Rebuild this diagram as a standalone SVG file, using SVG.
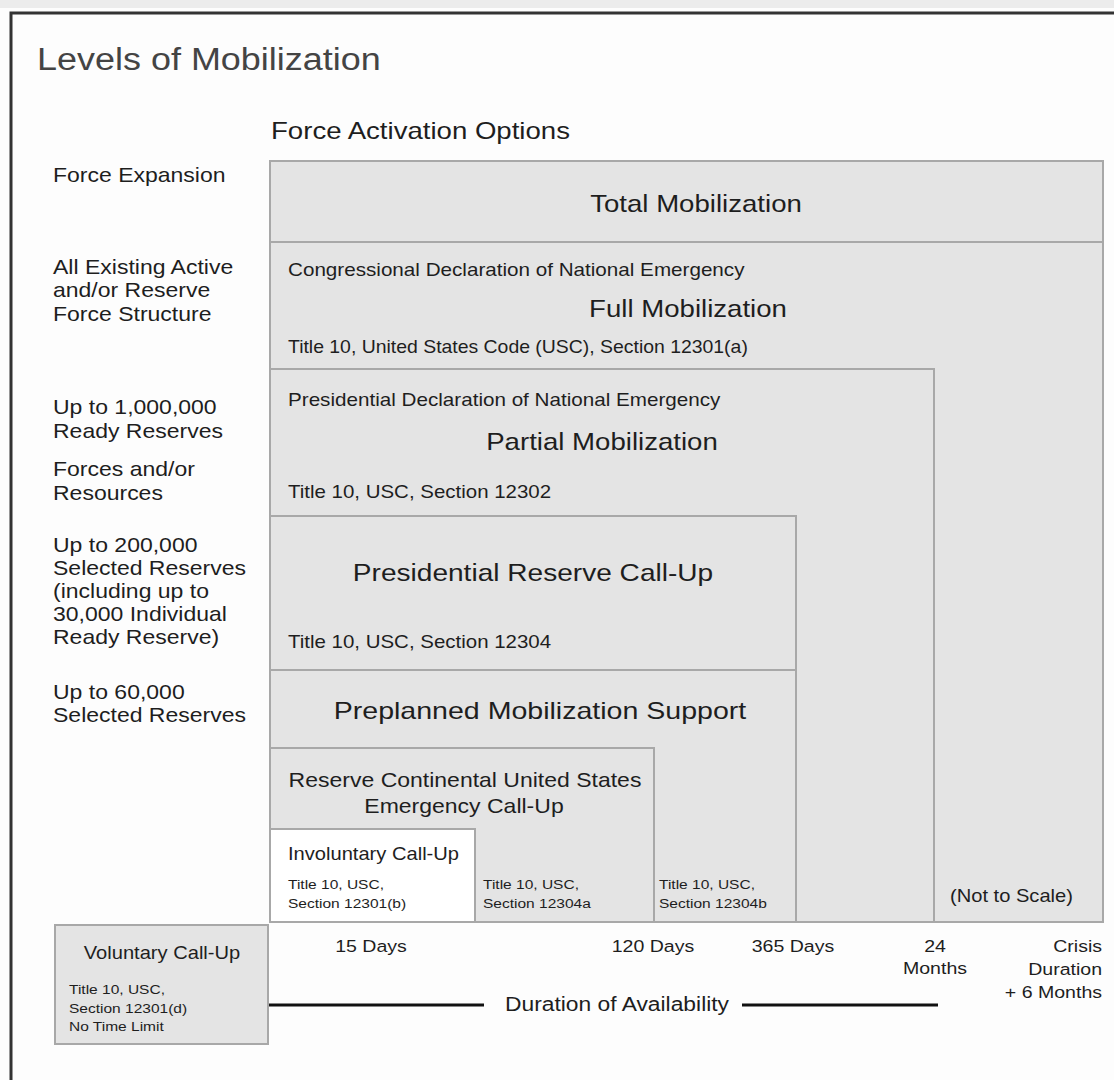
<svg xmlns="http://www.w3.org/2000/svg" width="1114" height="1080" viewBox="0 0 1114 1080">
<style>
text{font-family:"Liberation Sans",Arial,sans-serif;fill:#1e1e1e}
.box{fill:#e4e4e4;stroke:#a8a8a8;stroke-width:2}
.wbox{fill:#ffffff;stroke:#a8a8a8;stroke-width:2}
.lbl{font-size:20px}
.ilbl{font-size:20px}
.big{font-size:24px}
.med{font-size:17.5px}
.ax{font-size:17px}
.sm{font-size:13.5px}
.c{text-anchor:middle}
.r{text-anchor:end}
.axis{stroke:#111;stroke-width:3}
</style>
<rect x="0" y="0" width="1114" height="1080" fill="#fdfdfd"/>
<rect x="0" y="0" width="1114" height="8" fill="#ececec"/>
<path d="M1114 13 H11 V1080" fill="none" stroke="#333" stroke-width="3"/>
<text transform="translate(37 70) scale(1.16 1)" font-size="31" style="fill:#444">Levels of Mobilization</text>
<text transform="translate(271 139) scale(1.2 1)" font-size="23">Force Activation Options</text>

<g id="left-labels" class="lbl">
<text transform="translate(53 182) scale(1.15 1)">Force Expansion</text>
<text transform="translate(53 274) scale(1.15 1)">All Existing Active</text>
<text transform="translate(53 297) scale(1.15 1)">and/or Reserve</text>
<text transform="translate(53 321) scale(1.15 1)">Force Structure</text>
<text transform="translate(53 414) scale(1.15 1)">Up to 1,000,000</text>
<text transform="translate(53 438) scale(1.15 1)">Ready Reserves</text>
<text transform="translate(53 476) scale(1.15 1)">Forces and/or</text>
<text transform="translate(53 500) scale(1.15 1)">Resources</text>
<text transform="translate(53 552) scale(1.15 1)">Up to 200,000</text>
<text transform="translate(53 575) scale(1.15 1)">Selected Reserves</text>
<text transform="translate(53 598) scale(1.15 1)">(including up to</text>
<text transform="translate(53 621) scale(1.15 1)">30,000 Individual</text>
<text transform="translate(53 644) scale(1.15 1)">Ready Reserve)</text>
<text transform="translate(53 699) scale(1.15 1)">Up to 60,000</text>
<text transform="translate(53 722) scale(1.15 1)">Selected Reserves</text>
</g>

<g id="total-mobilization">
<rect class="box" x="270" y="161" width="833" height="81"/>
<text class="big c" transform="translate(696 212) scale(1.15 1)">Total Mobilization</text>
</g>
<g id="full-mobilization">
<rect class="box" x="270" y="242" width="833" height="680"/>
<text class="med" transform="translate(288 276) scale(1.18 1)">Congressional Declaration of National Emergency</text>
<text class="big c" transform="translate(688 317) scale(1.15 1)">Full Mobilization</text>
<text class="med" transform="translate(288 353) scale(1.11 1)">Title 10, United States Code (USC), Section 12301(a)</text>
<text class="med" transform="translate(950 902) scale(1.15 1)">(Not to Scale)</text>
</g>
<g id="partial-mobilization">
<rect class="box" x="270" y="369" width="664" height="553"/>
<text class="med" transform="translate(288 406) scale(1.18 1)">Presidential Declaration of National Emergency</text>
<text class="big c" transform="translate(602 450) scale(1.15 1)">Partial Mobilization</text>
<text class="med" transform="translate(288 498) scale(1.17 1)">Title 10, USC, Section 12302</text>
</g>
<g id="presidential-reserve-call-up">
<rect class="box" x="270" y="516" width="526" height="154"/>
<text class="big c" transform="translate(533 581) scale(1.17 1)">Presidential Reserve Call-Up</text>
<text class="med" transform="translate(288 648) scale(1.17 1)">Title 10, USC, Section 12304</text>
</g>
<g id="preplanned-mobilization-support">
<rect class="box" x="270" y="670" width="526" height="252"/>
<text class="big c" transform="translate(540 719) scale(1.19 1)">Preplanned Mobilization Support</text>
<text class="sm" transform="translate(659 889) scale(1.15 1)">Title 10, USC,</text>
<text class="sm" transform="translate(659 908) scale(1.15 1)">Section 12304b</text>
</g>
<g id="reserve-conus-emergency-call-up">
<rect class="box" x="270" y="748" width="384" height="174"/>
<text class="ilbl c" transform="translate(465 787) scale(1.15 1)">Reserve Continental United States</text>
<text class="ilbl c" transform="translate(464 813) scale(1.15 1)">Emergency Call-Up</text>
<text class="sm" transform="translate(483 889) scale(1.15 1)">Title 10, USC,</text>
<text class="sm" transform="translate(483 908) scale(1.15 1)">Section 12304a</text>
</g>
<g id="involuntary-call-up">
<rect class="wbox" x="270" y="829" width="205" height="93"/>
<text font-size="17.5" transform="translate(288 860) scale(1.15 1)">Involuntary Call-Up</text>
<text class="sm" transform="translate(288 889) scale(1.15 1)">Title 10, USC,</text>
<text class="sm" transform="translate(288 908) scale(1.15 1)">Section 12301(b)</text>
</g>
<g id="voluntary-call-up">
<rect class="box" x="55" y="925" width="213" height="119"/>
<text class="c" font-size="17.5" transform="translate(162 959) scale(1.15 1)">Voluntary Call-Up</text>
<text class="sm" transform="translate(69 994) scale(1.15 1)">Title 10, USC,</text>
<text class="sm" transform="translate(69 1013) scale(1.15 1)">Section 12301(d)</text>
<text class="sm" transform="translate(69 1031) scale(1.15 1)">No Time Limit</text>
</g>

<g id="axis-labels" class="ax">
<text class="c" transform="translate(371 952) scale(1.15 1)">15 Days</text>
<text class="c" transform="translate(653 952) scale(1.15 1)">120 Days</text>
<text class="c" transform="translate(793 952) scale(1.15 1)">365 Days</text>
<text class="c" transform="translate(935 952) scale(1.15 1)">24</text>
<text class="c" transform="translate(935 974) scale(1.15 1)">Months</text>
<text class="r" transform="translate(1102 952) scale(1.15 1)">Crisis</text>
<text class="r" transform="translate(1102 975) scale(1.15 1)">Duration</text>
<text class="r" transform="translate(1102 998) scale(1.15 1)">+ 6 Months</text>
<text class="c" font-size="19.5" transform="translate(617 1011) scale(1.17 1)">Duration of Availability</text>
</g>
<g id="connectors">
<line class="axis" x1="269" y1="1005" x2="484" y2="1005"/>
<line class="axis" x1="742" y1="1005" x2="938" y2="1005"/>
</g>
</svg>
